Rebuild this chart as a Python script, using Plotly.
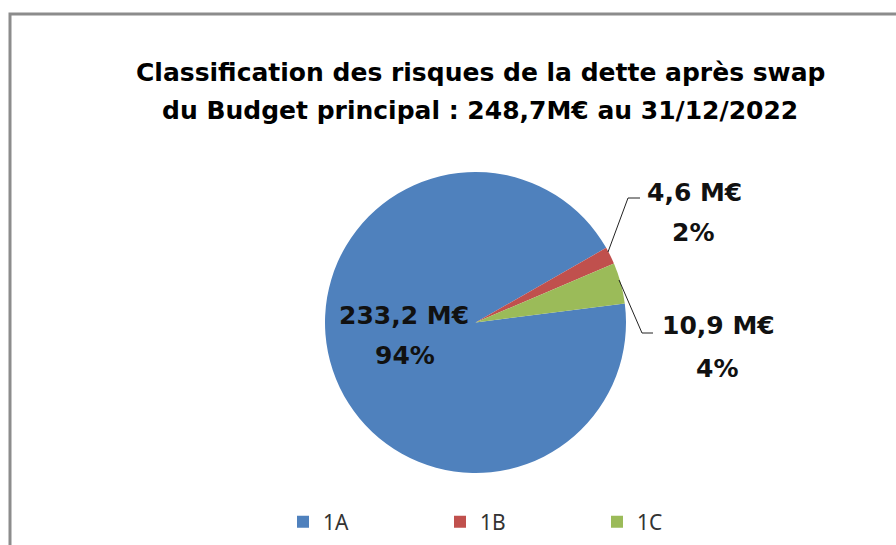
import plotly.graph_objects as go

categories = ["1A", "1B", "1C"]
values = [233.2, 4.6, 10.9]
colors = ["#4F81BD", "#C0504D", "#9BBB59"]
value_labels = ["233,2 M€", "4,6 M€", "10,9 M€"]
pct_labels = ["94%", "2%", "4%"]
title_lines = ["Classification des risques de la dette après swap",
               "du Budget principal : 248,7M€ au 31/12/2022"]

W, H = 896, 545
FONT = "DejaVu Sans"

def px(x):
    return x / W

def py(y):
    return 1 - y / H

fig = go.Figure()
fig.add_trace(go.Pie(
    labels=categories,
    values=values,
    marker=dict(colors=colors, line=dict(width=0)),
    sort=False,
    direction="clockwise",
    rotation=82.7,
    textinfo="none",
    hoverinfo="label+value+percent",
    domain=dict(x=[px(325), px(626)], y=[py(473), py(172)]),
))

annotations = []
for txt, yy in ((title_lines[0], 72), (title_lines[1], 110)):
    annotations.append(dict(text="<b>" + txt + "</b>", x=px(480), y=py(yy),
                            xref="paper", yref="paper", showarrow=False,
                            xanchor="center", yanchor="middle",
                            font=dict(family=FONT, size=25, color="#000")))

label_pos = [((404, 315), (405, 355)), ((694, 192), (693, 232)), ((718, 325), (717, 368))]
for i in range(len(categories)):
    (x1, y1), (x2, y2) = label_pos[i]
    for txt, (xx, yy) in ((value_labels[i], (x1, y1)), (pct_labels[i], (x2, y2))):
        annotations.append(dict(text="<b>" + txt + "</b>", x=px(xx), y=py(yy),
                                xref="paper", yref="paper", showarrow=False,
                                xanchor="center", yanchor="middle",
                                font=dict(family=FONT, size=25, color="#111")))

shapes = [
    dict(type="rect", xref="paper", yref="paper", x0=px(10), x1=1.05, y0=-0.05, y1=py(14),
         line=dict(color="#8c8c8c", width=3), fillcolor="rgba(0,0,0,0)"),
    dict(type="path", xref="paper", yref="paper",
         path=f"M {px(608)} {py(252)} L {px(628)} {py(198)} L {px(640)} {py(198)}",
         line=dict(color="#222", width=1)),
    dict(type="path", xref="paper", yref="paper",
         path=f"M {px(619)} {py(280)} L {px(642)} {py(333)} L {px(653)} {py(333)}",
         line=dict(color="#222", width=1)),
]

fig.update_layout(
    width=W, height=H,
    margin=dict(l=0, r=0, t=0, b=0),
    paper_bgcolor="white",
    plot_bgcolor="white",
    showlegend=True,
    legend=dict(orientation="h", x=px(283), y=py(522), xanchor="left", yanchor="middle",
                entrywidth=112, entrywidthmode="pixels",
                font=dict(family="Noto Sans", size=21, color="#333"),
                itemclick=False),
    annotations=annotations,
    shapes=shapes,
)

fig.write_html("out.html", config={"displayModeBar": False},
               post_script="document.body.style.margin='0';")
